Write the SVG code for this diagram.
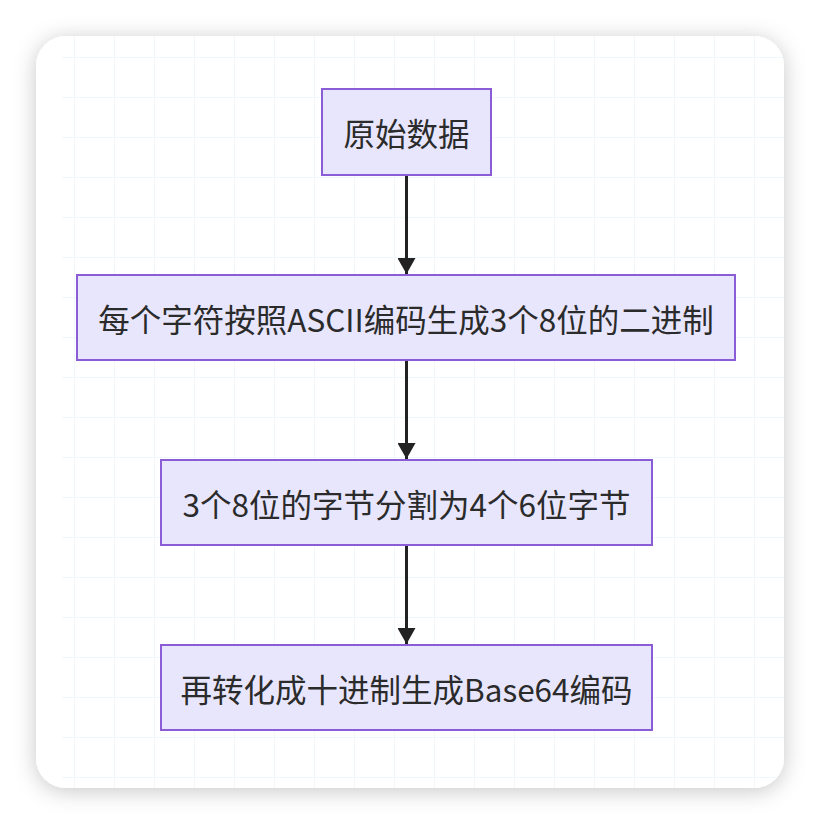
<svg xmlns="http://www.w3.org/2000/svg" width="820" height="824" viewBox="0 0 820 824">
  <defs>
    <filter id="shadow" x="-10%" y="-10%" width="120%" height="120%">
      <feDropShadow dx="0" dy="3" stdDeviation="11" flood-color="#000" flood-opacity="0.22"/>
    </filter>
    <pattern id="grid" x="35" y="18" width="40" height="40" patternUnits="userSpaceOnUse">
      <path d="M40 0 V40 M0 40 H40" fill="none" stroke="#e3f0f9" stroke-width="1"/>
    </pattern>
    <clipPath id="cardClip">
      <rect x="36" y="36" width="748" height="752" rx="30" ry="30"/>
    </clipPath>
    <marker id="arrow" markerWidth="16" markerHeight="18" refX="16" refY="9" orient="auto" markerUnits="userSpaceOnUse" viewBox="0 0 16 18">
      <path d="M0 0 L16 9 L0 18 Z" fill="#222"/>
    </marker>
  </defs>
  <style>
    .node rect { fill: #e8e6fd; stroke: #8a5cd6; stroke-width: 2; }
    .node text { font-family: "Noto Sans CJK SC", "Noto Sans", sans-serif; font-size: 31.5px; fill: #2b2b2b; text-anchor: middle; dominant-baseline: central; }
    .edge { stroke: #222; stroke-width: 3; fill: none; }
  </style>
  <rect x="0" y="0" width="820" height="824" fill="#ffffff"/>
  <rect x="36" y="36" width="748" height="752" rx="30" ry="30" fill="#ffffff" filter="url(#shadow)"/>
  <g clip-path="url(#cardClip)">
    <rect x="62" y="36" width="722" height="752" fill="url(#grid)"/>
  </g>

  <g id="connectors">
    <path class="edge" d="M406.5 175 V274" marker-end="url(#arrow)"/>
    <path class="edge" d="M406.5 360 V459" marker-end="url(#arrow)"/>
    <path class="edge" d="M406.5 545 V644" marker-end="url(#arrow)"/>
  </g>

  <g id="node-raw" class="node">
    <rect x="322" y="89" width="169" height="86"/>
    <text x="406.5" y="132">原始数据</text>
  </g>
  <g id="node-ascii" class="node">
    <rect x="77" y="275" width="658" height="85"/>
    <text x="406" y="317.5">每个字符按照ASCII编码生成3个8位的二进制</text>
  </g>
  <g id="node-split" class="node">
    <rect x="161" y="460" width="491" height="85"/>
    <text x="406.5" y="502.5">3个8位的字节分割为4个6位字节</text>
  </g>
  <g id="node-base64" class="node">
    <rect x="161" y="645" width="491" height="85"/>
    <text x="406.5" y="687.5">再转化成十进制生成Base64编码</text>
  </g>
</svg>
